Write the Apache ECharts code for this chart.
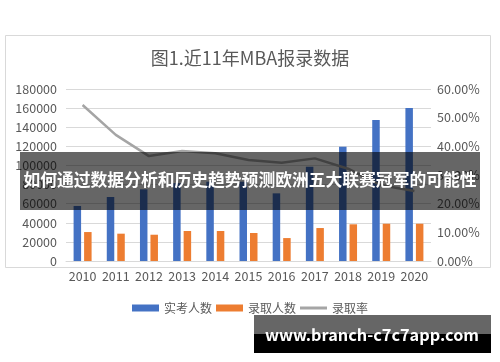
<!DOCTYPE html>
<html><head><meta charset="utf-8">
<script src="https://cdn.jsdelivr.net/npm/echarts@6/dist/echarts.min.js"></script>
<style>html,body{margin:0;padding:0;background:#fff}#c{width:500px;height:362px}</style>
</head><body><div id="c"></div>
<script>
const years = ['2010','2011','2012','2013','2014','2015','2016','2017','2018','2019','2020'];
const examinees = [57600, 67000, 75000, 81500, 83000, 83000, 70800, 98700, 119600, 147600, 160000];
const admitted = [30300, 28600, 27500, 31400, 31400, 29300, 24000, 34500, 38400, 39000, 39000];
const rate = [0.544, 0.44, 0.366, 0.384, 0.376, 0.352, 0.343, 0.358, 0.322, 0.264, 0.244];
const seriesNames = ['实考人数', '录取人数', '录取率'];
const titleText = '图1.近11年MBA报录数据';
const overlayText = '如何通过数据分析和历史趋势预测欧洲五大联赛冠军的可能性';
const bannerText = 'www.branch-c7c7app.com';

const FONT = '"Noto Sans CJK SC", "Noto Sans", sans-serif';
const chart = echarts.init(document.getElementById('c'), null, {renderer: 'canvas'});
chart.setOption({
  backgroundColor: '#ffffff',
  animation: false,
  textStyle: {fontFamily: FONT},
  title: {
    text: titleText, left: 'center', top: 44,
    textStyle: {fontSize: 18, fontWeight: 'normal', color: '#595959', fontFamily: FONT}
  },
  grid: {left: 66, right: 69, top: 89, bottom: 101},
  legend: {
    data: [
      {name: seriesNames[0], icon: 'rect'},
      {name: seriesNames[1], icon: 'rect'},
      {name: seriesNames[2], icon: 'path://M0,0M0,7M0,2H27V5H0Z'}
    ],
    top: 297, left: 'center', itemWidth: 27, itemHeight: 7, itemGap: 4,
    textStyle: {fontSize: 12, color: '#595959', fontFamily: FONT}
  },
  xAxis: {
    type: 'category', data: years,
    axisLine: {show: true, lineStyle: {color: '#d9d9d9'}},
    axisTick: {show: false},
    axisLabel: {color: '#595959', fontSize: 12.5, margin: 9, fontFamily: FONT, interval: 0}
  },
  yAxis: [{
    type: 'value', min: 0, max: 180000, interval: 20000,
    axisLine: {show: false}, axisTick: {show: false},
    splitLine: {lineStyle: {color: '#d9d9d9'}},
    axisLabel: {color: '#595959', fontSize: 12.5, margin: 9, fontFamily: FONT,
      formatter: v => String(v)}
  }, {
    type: 'value', min: 0, max: 0.6, interval: 0.1,
    axisLine: {show: false}, axisTick: {show: false},
    splitLine: {show: false},
    axisLabel: {color: '#595959', fontSize: 12.5, margin: 6, fontFamily: FONT,
      formatter: v => (v * 100).toFixed(2) + '%'}
  }],
  series: [{
    name: seriesNames[0], type: 'bar', data: examinees, barWidth: 7.5, barGap: '40%',
    itemStyle: {color: '#4472C4'}
  }, {
    name: seriesNames[1], type: 'bar', data: admitted, barWidth: 7.5,
    itemStyle: {color: '#ED7D31'}
  }, {
    name: seriesNames[2], type: 'line', yAxisIndex: 1, data: rate,
    symbol: 'none', lineStyle: {color: '#a5a5a5', width: 2.5}, itemStyle: {color: '#a5a5a5'}
  }],
  graphic: [
    {type: 'rect', z: 0, silent: true, shape: {x: 5.5, y: 35.5, width: 485, height: 232},
      style: {fill: 'none', stroke: '#d9d9d9', lineWidth: 1}},
    {type: 'rect', z: 100, silent: true, shape: {x: 20, y: 152, width: 460, height: 58},
      style: {fill: 'rgba(0,0,0,0.6)'}},
    {type: 'text', z: 101, silent: true, left: 'center', top: 171,
      style: {text: overlayText, fill: '#ffffff', font: 'bold 16.8px ' + FONT}},
    {type: 'rect', z: 100, silent: true, shape: {x: 254, y: 315, width: 237, height: 19},
      style: {fill: '#666666'}},
    {type: 'rect', z: 100, silent: true, shape: {x: 254, y: 334, width: 237, height: 19},
      style: {fill: '#000000'}},
    {type: 'text', z: 101, silent: true, x: 372, y: 335,
      style: {text: bannerText, fill: '#ffffff', font: 'bold 16.3px ' + FONT, textAlign: 'center', textVerticalAlign: 'middle'}}
  ]
});
</script></body></html>
